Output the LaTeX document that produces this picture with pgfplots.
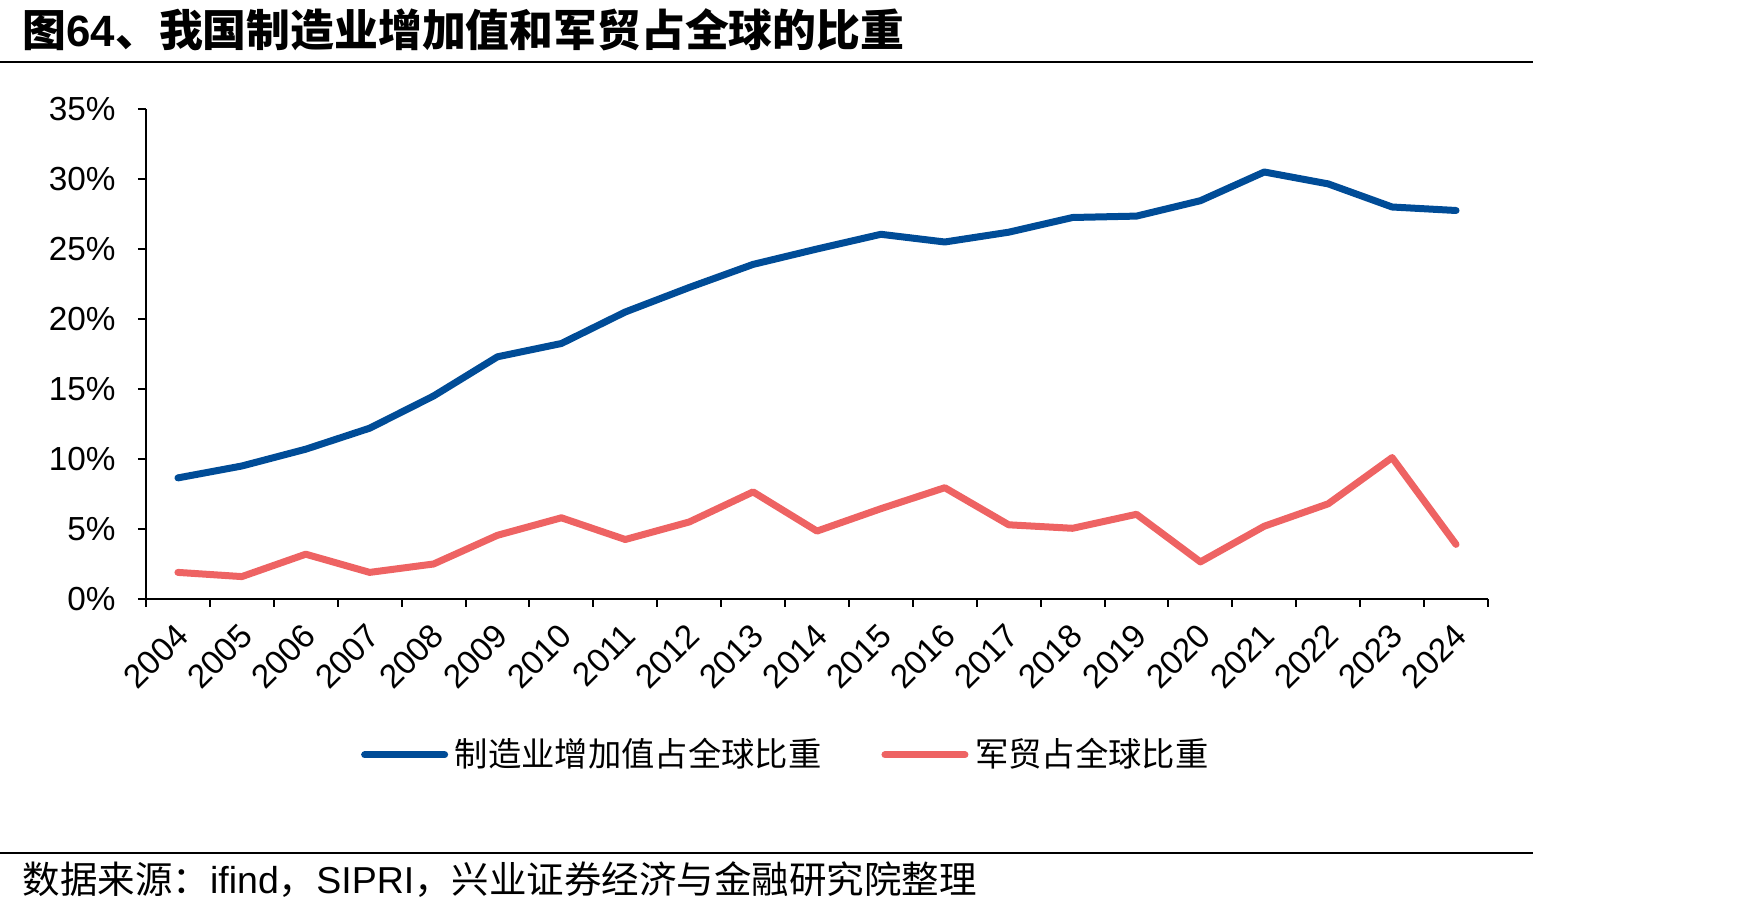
\documentclass[border=0pt]{standalone}
\usepackage{pgfplots}
\pgfplotsset{compat=1.18}
\usepackage{fontspec}
\setmainfont{Liberation Sans}
\newfontfamily\cjk{Noto Sans CJK SC}
\definecolor{mfgblue}{RGB}{0,76,151}
\definecolor{tradered}{RGB}{238,99,99}

\begin{document}
\begin{tikzpicture}[x=0.3pt,y=0.3pt]
\path[use as bounding box] (0,0) rectangle (1748,912);
% header
\node[anchor=west, inner sep=0pt, font=\fontsize{13.15}{15}\selectfont\bfseries] at (22,882)
  {{\cjk 图}64{\cjk 、我国制造业增加值和军贸占全球的比重}};
\draw[line width=0.6pt] (0,850) -- (1533,850);
% footer
\draw[line width=0.6pt] (0,59) -- (1533,59);
\node[anchor=west, inner sep=0pt, font=\fontsize{11.25}{13}\selectfont] at (22,32)
  {{\cjk 数据来源：}ifind{\cjk ，}SIPRI{\cjk ，兴业证券经济与金融研究院整理}};

\begin{axis}[
  at={(43.8pt,93.9pt)}, anchor=south west,
  width=402.6pt, height=147pt, scale only axis,
  xmin=-0.5, xmax=20.5, ymin=0, ymax=35,
  axis x line*=bottom, axis y line*=left,
  axis line style={line width=0.6pt, -},
  tick align=outside,
  xtick={0,...,20},
  xticklabels={2004,2005,2006,2007,2008,2009,2010,2011,2012,2013,2014,2015,2016,2017,2018,2019,2020,2021,2022,2023,2024},
  major x tick style={draw=none},
  minor xtick={-0.5,0.5,...,20.5},
  minor x tick style={line width=0.6pt, black},
  minor tick length=2.4pt,
  ytick={0,5,...,35},
  yticklabels={0\%,5\%,10\%,15\%,20\%,25\%,30\%,35\%},
  major y tick style={line width=0.6pt, black},
  major tick length=2.4pt,
  tick label style={font=\fontsize{10}{12}\selectfont},
  xticklabel style={rotate=45, anchor=east, inner sep=1pt, xshift=-2.8pt, yshift=-5.8pt},
  yticklabel style={xshift=-3.2pt},
  legend columns=2,
  legend style={at={(0.4785,-0.318)}, anchor=center, draw=none, fill=none,
    font=\cjk\fontsize{10}{12}\selectfont,
    /tikz/every even column/.append style={column sep=16pt}},
  legend image code/.code={\draw[#1, line width=2.1pt, line cap=round] (0pt,0pt) -- (24pt,0pt);},
  clip=false,
]
\addplot[mfgblue, line width=2.1pt, line join=round, line cap=round] coordinates {
 (0,8.65) (1,9.5) (2,10.7) (3,12.2) (4,14.5) (5,17.3) (6,18.25) (7,20.5) (8,22.25) (9,23.9)
 (10,25.0) (11,26.05) (12,25.5) (13,26.2) (14,27.25) (15,27.35) (16,28.45) (17,30.5) (18,29.65) (19,28.0) (20,27.75)};
\addlegendentry{制造业增加值占全球比重}
\addplot[tradered, line width=2.1pt, line join=round, line cap=round] coordinates {
 (0,1.9) (1,1.6) (2,3.2) (3,1.9) (4,2.5) (5,4.55) (6,5.8) (7,4.25) (8,5.5) (9,7.65)
 (10,4.85) (11,6.45) (12,7.95) (13,5.3) (14,5.05) (15,6.05) (16,2.65) (17,5.2) (18,6.8) (19,10.1) (20,3.9)};
\addlegendentry{军贸占全球比重}
\end{axis}
\end{tikzpicture}
\end{document}
